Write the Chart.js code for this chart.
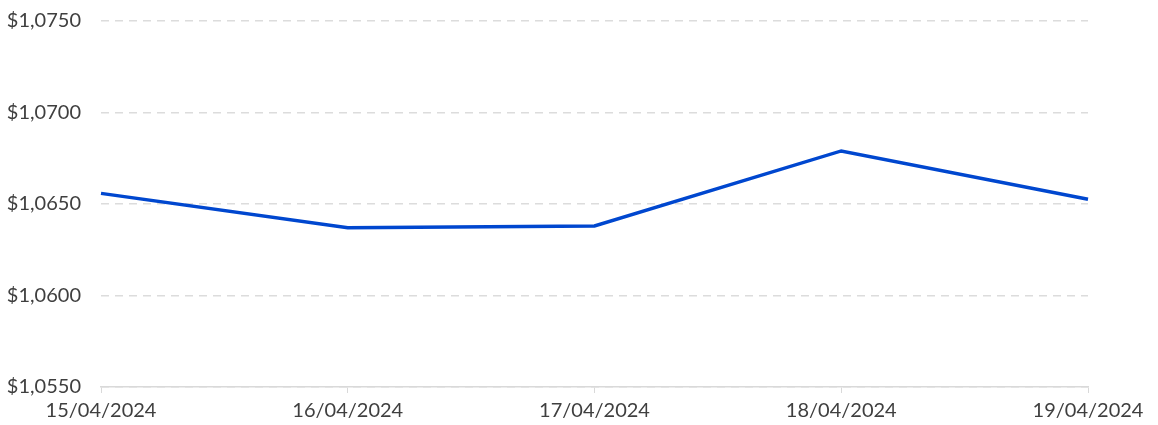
<!DOCTYPE html>
<html>
<head>
<meta charset="utf-8">
<script src="https://cdn.jsdelivr.net/npm/chart.js@4/dist/chart.umd.min.js"></script>
<style>
  html, body { margin: 0; padding: 0; background: #fff; }
  #wrap { width: 1158px; height: 425px; }
</style>
</head>
<body>
<div id="wrap"><canvas id="priceChart" width="1158" height="425"></canvas></div>
<script>
// datos del gráfico
const dates = ['15/04/2024', '16/04/2024', '17/04/2024', '18/04/2024', '19/04/2024'];
const prices = [1.06558, 1.06370, 1.06380, 1.06790, 1.06526];
const yTicks = [1.0550, 1.0600, 1.0650, 1.0700, 1.0750];

const fmt = v => '$' + v.toFixed(4).replace('.', ',');

const ctx = document.getElementById('priceChart').getContext('2d');
new Chart(ctx, {
  type: 'line',
  data: {
    labels: dates,
    datasets: [{
      data: prices,
      borderColor: '#0047CF',
      borderWidth: 3.5,
      pointRadius: 0,
      tension: 0,
      fill: false
    }]
  },
  options: {
    responsive: false,
    animation: false,
    layout: { padding: { left: 7, right: 70, top: 0, bottom: 2 } },
    plugins: { legend: { display: false }, tooltip: { enabled: false } },
    scales: {
      x: {
        offset: false,
        afterFit: axis => { axis.height = 36; },
        grid: { drawOnChartArea: false, drawTicks: true, tickLength: 6, color: '#d9d9d9' },
        border: { display: true, color: '#d9d9d9', width: 1.5 },
        ticks: {
          maxRotation: 0, padding: 6,
          color: '#3f3f3f', font: { family: 'Lato', size: 20 }
        }
      },
      y: {
        min: yTicks[0],
        max: yTicks[yTicks.length - 1],
        afterBuildTicks: axis => { axis.ticks = yTicks.map(v => ({ value: v })); },
        afterFit: axis => { axis.width = 94; axis.paddingTop = 21; axis.paddingBottom = 12; },
        grid: { color: '#dcdcdc', lineWidth: 1.5, drawTicks: false },
        border: { display: false, dash: [8, 6] },
        ticks: {
          padding: 20,
          color: '#3f3f3f', font: { family: 'Lato', size: 20 },
          callback: v => fmt(v)
        }
      }
    }
  }
});
</script>
</body>
</html>
